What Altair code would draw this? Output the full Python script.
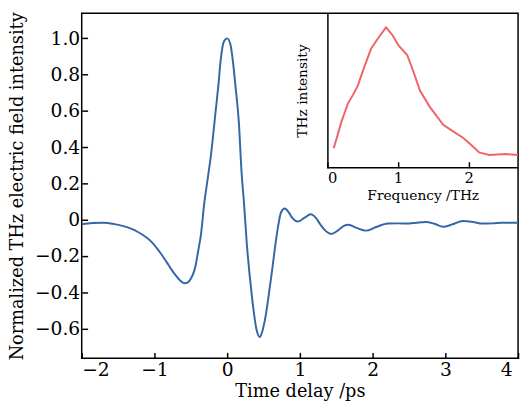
import altair as alt
import pandas as pd

# ---- main waveform (time domain) ----
time_ps = [-2.0, -1.85, -1.71, -1.55, -1.44, -1.33, -1.22, -1.12, -1.04, -0.97,
           -0.90, -0.83, -0.77, -0.71, -0.65, -0.61, -0.58, -0.54, -0.50, -0.46,
           -0.43, -0.40, -0.36, -0.315, -0.27, -0.225, -0.158, -0.12, -0.09, -0.045,
           0.0, 0.045, 0.08, 0.11, 0.16, 0.20, 0.23, 0.27, 0.338, 0.405,
           0.45, 0.48, 0.518, 0.608, 0.698, 0.74, 0.79, 0.84, 0.88, 0.97,
           1.06, 1.15, 1.22, 1.28, 1.35, 1.43, 1.52, 1.60, 1.67, 1.78,
           1.91, 2.05, 2.21, 2.35, 2.48, 2.60, 2.73, 2.85, 2.97, 3.10,
           3.24, 3.38, 3.51, 3.65, 3.78, 4.0]
field = [-0.025, -0.018, -0.016, -0.024, -0.034, -0.048, -0.069, -0.095, -0.122, -0.155,
         -0.193, -0.235, -0.272, -0.305, -0.334, -0.346, -0.350, -0.345, -0.325, -0.290,
         -0.245, -0.175, -0.080, 0.090, 0.220, 0.350, 0.600, 0.745, 0.877, 0.983,
         1.0, 0.966, 0.870, 0.753, 0.541, 0.250, 0.100, -0.131, -0.414, -0.608,
         -0.647, -0.620, -0.555, -0.308, -0.042, 0.040, 0.062, 0.045, 0.019, -0.010,
         0.010, 0.030, 0.010, -0.025, -0.060, -0.078, -0.060, -0.035, -0.028, -0.045,
         -0.060, -0.040, -0.021, -0.020, -0.021, -0.016, -0.012, -0.022, -0.039, -0.025,
         -0.007, -0.012, -0.021, -0.020, -0.016, -0.016]

# ---- inset spectrum ----
freq_thz = [0.09, 0.20, 0.29, 0.36, 0.43, 0.52, 0.62, 0.72, 0.83, 0.92,
            1.01, 1.13, 1.22, 1.31, 1.45, 1.64, 1.78, 1.92, 2.03, 2.15,
            2.29, 2.40, 2.52, 2.70]
spectrum = [0.126, 0.30, 0.415, 0.47, 0.53, 0.65, 0.773, 0.84, 0.909, 0.86,
            0.790, 0.730, 0.62, 0.50, 0.394, 0.278, 0.235, 0.194, 0.150, 0.099,
            0.082, 0.085, 0.088, 0.082]

x_ticks = [-2, -1, 0, 1, 2, 3, 4]
y_ticks = [-0.6, -0.4, -0.2, 0.0, 0.2, 0.4, 0.6, 0.8, 1.0]
inset_x_ticks = [0, 1, 2]
inset_x_domain = [0, 2.7]
inset_y_domain = [0, 1]

W, H = 444, 351
INSET_LEFT = 250   # px inside plot
INSET_BOTTOM = 157  # px inside plot
FONT = "DejaVu Serif"

main_df = pd.DataFrame({"t": time_ps, "e": field})
inset_df = pd.DataFrame({"f": freq_thz, "s": spectrum})
frame_df = pd.DataFrame({"f0": [inset_x_domain[0]], "f1": [inset_x_domain[1]],
                         "s": [inset_y_domain[0]]})

common = dict(labelFont=FONT, titleFont=FONT, labelColor="black", titleColor="black",
              tickColor="black", titleFontWeight="normal", tickWidth=1.5)

main = alt.Chart(main_df).mark_line(
    color="#3567a6", strokeWidth=2, interpolate="monotone"
).encode(
    x=alt.X("t:Q",
            scale=alt.Scale(domain=[-2, 4], nice=False, zero=False),
            axis=alt.Axis(title="Time delay /ps", values=x_ticks, format="d",
                          orient="bottom", offset=-6, tickSize=6, domain=False,
                          grid=False, labelPadding=3, titlePadding=3,
                          labelFontSize=19, titleFontSize=18,
                          labelOffset=alt.condition("datum.value == 4", alt.value(-6), alt.value(0)),
                          **common)),
    y=alt.Y("e:Q",
            scale=alt.Scale(domain=[-0.764, 1.138], nice=False, zero=False),
            axis=alt.Axis(title="Normalized THz electric field intensity", values=y_ticks,
                          labelExpr="abs(datum.value) < 1e-9 ? '0' : format(datum.value, '.1f')",
                          orient="left", offset=-6, tickSize=6, domain=False, grid=False,
                          labelPadding=2, titlePadding=8,
                          labelFontSize=19, titleFontSize=18, **common)),
)

inset_line = alt.Chart(inset_df).mark_line(
    color="#ef6468", strokeWidth=2
).encode(
    x=alt.X("f:Q",
            scale=alt.Scale(domain=inset_x_domain, range=[INSET_LEFT, W], nice=False, zero=False),
            axis=alt.Axis(title="Frequency /THz", values=inset_x_ticks, format="d",
                          orient="bottom", offset=-(H - INSET_BOTTOM) - 6, tickSize=6,
                          domain=False, grid=False, labelPadding=3, titlePadding=3,
                          labelFontSize=15, titleFontSize=14, **common)),
    y=alt.Y("s:Q",
            scale=alt.Scale(domain=inset_y_domain, range=[INSET_BOTTOM, 0], nice=False, zero=False),
            axis=alt.Axis(title="THz intensity", orient="left", offset=-INSET_LEFT,
                          ticks=False, labels=False, domain=True, domainColor="black",
                          domainWidth=1.5, grid=False,
                          titlePadding=18, titleFontSize=14, **common)),
)

inset_bottom = alt.Chart(frame_df).mark_rule(color="black", strokeWidth=1.5).encode(
    x="f0:Q", x2="f1:Q", y="s:Q"
)

inset = alt.layer(inset_line, inset_bottom)

chart = alt.layer(main, inset).resolve_scale(
    x="independent", y="independent"
).properties(
    width=W, height=H, padding={"left": 0, "top": 0, "right": 0, "bottom": -2},
    background="white"
).configure_view(
    stroke="black", strokeWidth=1.5
)

chart.save("out.html", embed_options={"renderer": "svg", "actions": False})
